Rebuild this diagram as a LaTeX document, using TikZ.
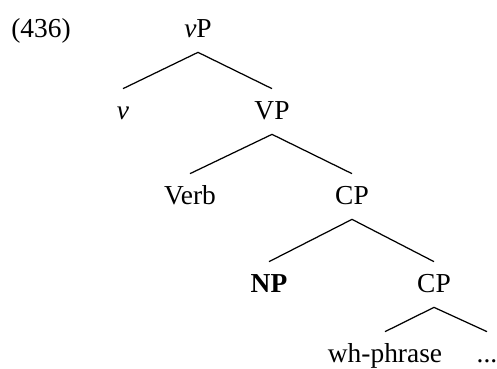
\documentclass[tikz,border=0pt]{standalone}
\usepackage{fontspec}
\setmainfont{Liberation Serif}
\begin{document}
\begin{tikzpicture}[cat/.style={anchor=base,inner sep=0pt,text height=0.6cm,text depth=0.3cm,font=\fontsize{15.6}{18}\selectfont},
  branch/.style={line width=0.7pt}]
  \useasboundingbox (0,0) rectangle (9.94,-7.36);
  \node[cat] (ex) at (0.82,-0.74) {(436)};
  \node[cat] (vP) at (3.96,-0.74) {\textit{v}P};
  \node[cat] (v) at (2.46,-2.38) {\textit{v}};
  \node[cat] (VP) at (5.44,-2.38) {VP};
  \node[cat] (verb) at (3.80,-4.08) {Verb};
  \node[cat] (CPa) at (7.04,-4.08) {CP};
  \node[cat] (NP) at (5.38,-5.84) {\textbf{NP}};
  \node[cat] (CPb) at (8.68,-5.84) {CP};
  \node[cat] (wh) at (7.70,-7.24) {wh-phrase};
  \node[cat] (rest) at (9.74,-7.24) {...};
  \draw[branch] (v.north) -- (vP.south) -- (VP.north);
  \draw[branch] (verb.north) -- (VP.south) -- (CPa.north);
  \draw[branch] (NP.north) -- (CPa.south) -- (CPb.north);
  \draw[branch] (wh.north) -- (CPb.south) -- (rest.north);
\end{tikzpicture}
\end{document}
